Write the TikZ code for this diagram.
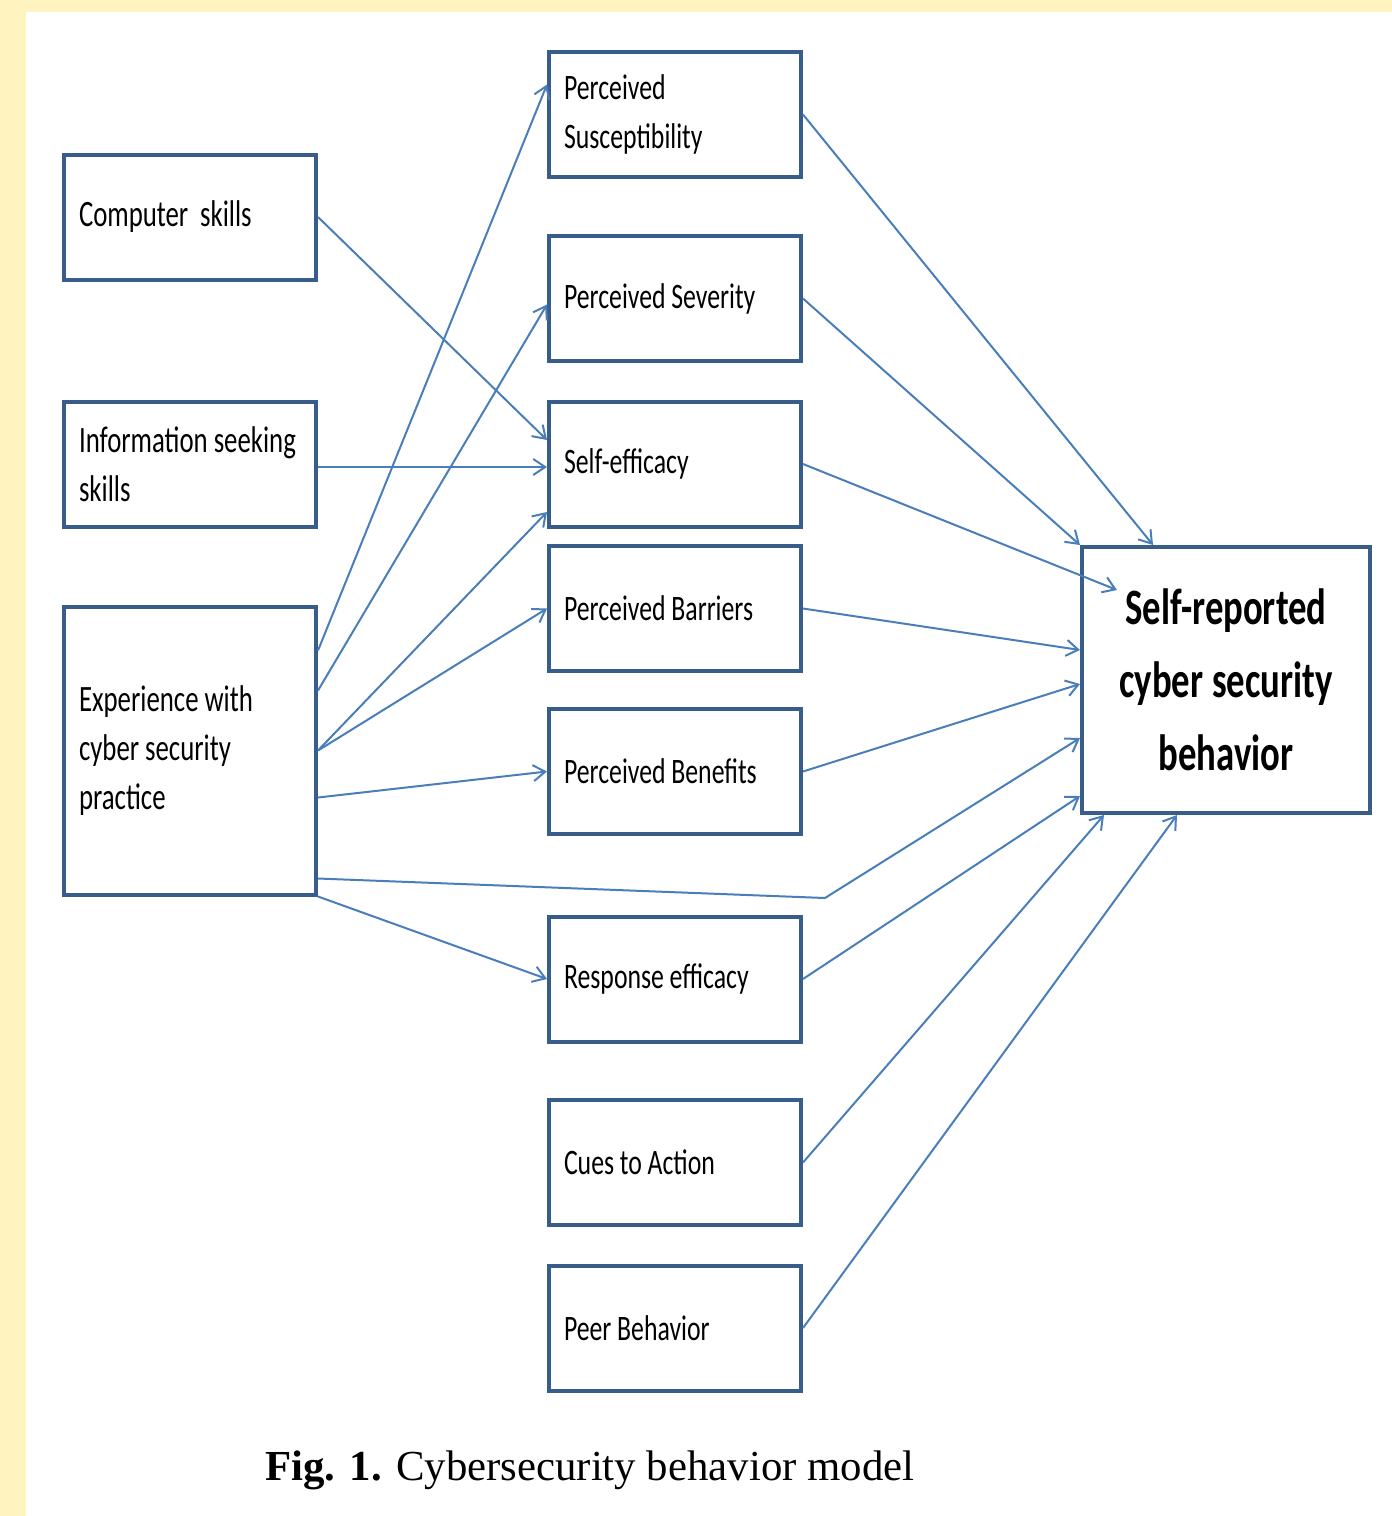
\documentclass[tikz,border=0pt]{standalone}
\usepackage{fontspec}
\usepackage{tikz}
\usetikzlibrary{arrows.meta,positioning,calc}
\newfontfamily\boxfont[FakeStretch=0.72]{Carlito}
\newfontfamily\capfont{Liberation Serif}
\newcommand\tightspace{\spaceskip=.16em plus .05em\relax}
\definecolor{boxblue}{HTML}{385D8A}
\definecolor{linkblue}{HTML}{4A7EBB}
\definecolor{pagebg}{HTML}{FFF3C0}
\tikzset{
  factor/.style={draw=boxblue,line width=2pt,text width=111pt,inner xsep=7.5pt,minimum height=62.5pt,align=left,font=\boxfont\fontsize{17.9}{24.5}\selectfont,execute at begin node=\tightspace},
  source/.style={factor,font=\boxfont\fontsize{18.6}{24.5}\selectfont},
  link/.style={draw=linkblue,line width=1pt,-{Straight Barb[length=6pt,width=8pt]}}
}

\begin{document}
\begin{tikzpicture}[x=.5pt,y=-.5pt]
\useasboundingbox (0,0) rectangle (1392,1516);
\fill[pagebg] (0,0) rectangle (1392,1516);
\fill[white] (26,12) rectangle (1392,1516);
% antecedents
\node[source] (cs) at (190,217) {Computer~ skills};
\node[source] (is) at (190,464) {Information seeking\\skills};
\node[source,minimum height=144pt] (exp) at (190,750.5) {Experience with\\cyber security\\practice};
% health belief factors
\foreach \n/\y/\lab in {ps/114.5/{Perceived\\Susceptibility},sev/298.5/{Perceived Severity},se/464/{Self-efficacy},pba/608.5/{Perceived Barriers},pbe/771.5/{Perceived Benefits},re/979/{Response efficacy},ca/1162.5/{Cues to Action},pb/1328/{Peer Behavior}}{\node[factor] (\n) at (675,\y) {\lab};}
% outcome
\node[factor,text width=144pt,inner xsep=0pt,minimum height=133pt,align=center,font=\boxfont\bfseries\fontsize{25.5}{36.5}\selectfont] (sr) at (1226,680) {Self-reported\\cyber security\\behavior};
\node[anchor=base west,inner sep=0pt,font=\capfont\fontsize{21.4}{25}\selectfont] (cap) at (265,1480) {\textbf{Fig. 1.} Cybersecurity behavior model};
% links into the middle column
\draw[link] (cs.east) -- ($(se.west)+(0,-24)$);
\draw[link] ($(is.east)+(0,3)$) -- ($(se.west)+(0,3)$);
\draw[link] ($(exp.east)+(0,-100)$) -- ($(ps.west)+(0,-30)$);
\draw[link] ($(exp.east)+(0,-60)$) -- ($(sev.west)+(0,6)$);
\draw[link] (exp.east) -- ($(se.west)+(0,48)$);
\draw[link] (exp.east) -- (pba.west);
\draw[link] ($(exp.east)+(0,47)$) -- (pbe.west);
\draw[link] (exp.south east) -- (re.west);
\coordinate (bend) at (825,898);
\draw[link] ($(exp.east)+(0,128)$) -- (bend) -- ($(sr.west)+(0,58)$);
% links into the outcome
\draw[link] (ps.east) -- ($(sr.north west)+(73,0)$);
\draw[link] (sev.east) -- (sr.north west);
\draw[link] (se.east) -- ($(sr.north west)+(37,45)$);
\draw[link] (pba.east) -- ($(sr.west)+(0,-30)$);
\draw[link] (pbe.east) -- ($(sr.west)+(0,4)$);
\draw[link] (re.east) -- ($(sr.west)+(0,116)$);
\draw[link] (ca.east) -- ($(sr.south west)+(24,0)$);
\draw[link] (pb.east) -- ($(sr.south west)+(97,0)$);
\end{tikzpicture}
\end{document}
